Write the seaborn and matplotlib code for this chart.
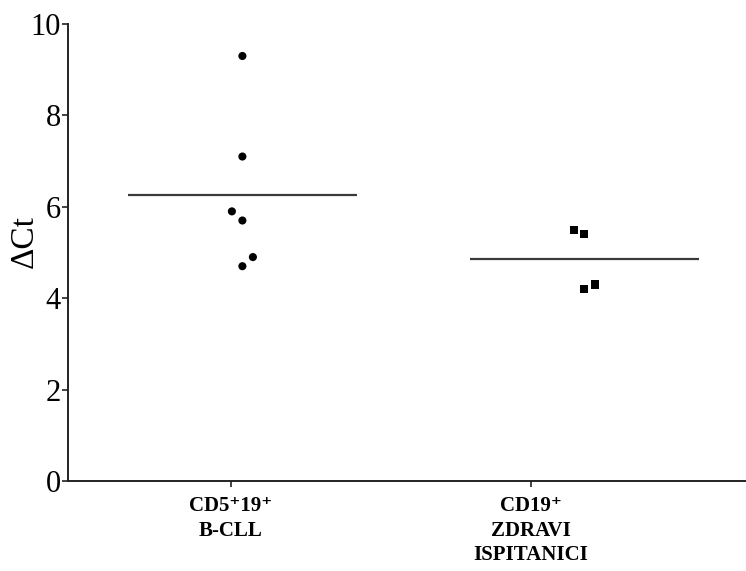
import numpy as np
import pandas as pd
import matplotlib
matplotlib.use("Agg")
import matplotlib.pyplot as plt
import seaborn as sns

# data
group_labels = ["CD5\u207a19\u207a\nB-CLL", "CD19\u207a\nZDRAVI\nISPITANICI"]
cll_values = [9.3, 7.1, 5.9, 5.7, 4.9, 4.7]
healthy_values = [5.5, 5.4, 4.2, 4.3]
y_ticks = [0, 2, 4, 6, 8, 10]

# layout: where each group's dots sit relative to its tick, and small horizontal spread
group_centers = [0.038, 1.178]
cll_spread = [0, 0, -0.035, 0, 0.035, 0]
healthy_spread = [-0.035, 0, 0, 0.035]
mean_half_width = 0.382

df = pd.DataFrame({
    "group": ["cll"] * len(cll_values) + ["healthy"] * len(healthy_values),
    "value": cll_values + healthy_values,
    "x": [group_centers[0] + d for d in cll_spread]
         + [group_centers[1] + d for d in healthy_spread],
})

sns.set_style("ticks")
plt.rcParams["font.family"] = ["Liberation Serif", "DejaVu Serif"]
plt.rcParams["text.color"] = "black"
plt.rcParams["xtick.labelcolor"] = "black"
plt.rcParams["ytick.labelcolor"] = "black"

fig = plt.figure(figsize=(7.46, 5.71), dpi=100)
ax = fig.add_axes([68 / 746, (571 - 481) / 571, 1 - 68 / 746, (481 - 24) / 571])

sns.scatterplot(data=df, x="x", y="value", style="group",
                markers={"cll": "o", "healthy": "s"},
                s=34, color="black", edgecolor="none",
                legend=False, ax=ax)

# mean lines
for center, vals in zip(group_centers, [cll_values, healthy_values]):
    ax.hlines(np.mean(vals), center - mean_half_width, center + mean_half_width,
              color="#3a3a3a", linewidth=1.6)

ax.set_xlim(-0.5433, 1.7167)
ax.set_ylim(0, 10)
ax.set_yticks(y_ticks)
ax.set_yticklabels([str(t) for t in y_ticks], fontsize=22)
ax.set_xticks([0, 1])
ax.set_xticklabels(group_labels, fontsize=15, fontweight="bold",
                   linespacing=1.3, va="top")
ax.set_xlabel("")
ax.set_ylabel("\u0394Ct", fontsize=24, va="center", color="black")
ax.yaxis.set_label_coords(-0.064, 0.523)

for side in ["top", "right"]:
    ax.spines[side].set_visible(False)
for side in ["left", "bottom"]:
    ax.spines[side].set_linewidth(1.4)
    ax.spines[side].set_color("#222222")
ax.tick_params(axis="both", direction="out", length=4, width=1.2, color="#222222",
               labelcolor="black")
ax.tick_params(axis="y", pad=1)
ax.tick_params(axis="x", pad=7)

fig.savefig("out.png", dpi=100)
